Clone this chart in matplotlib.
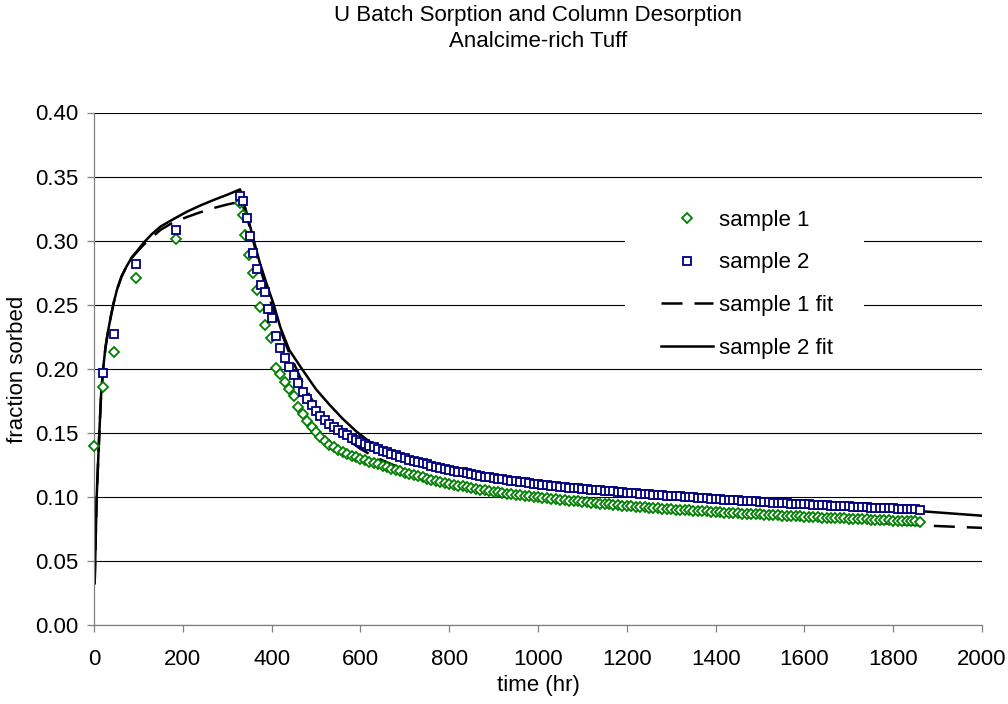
import numpy as np
import matplotlib
matplotlib.use("Agg")
import matplotlib.pyplot as plt
from matplotlib.patches import Rectangle

plt.rcParams['font.family'] = ['Liberation Sans', 'DejaVu Sans']
plt.rcParams['font.size'] = 16

# batch sorption points (hr, fraction sorbed)
s1_batch_t = [0, 21, 44, 95, 185]
s1_batch_y = [0.140, 0.186, 0.213, 0.271, 0.301]
s2_batch_t = [21, 44, 95, 185]
s2_batch_y = [0.197, 0.227, 0.282, 0.308]

# first column samples, before the regular 10 hr sampling
s1_col_t = [329, 335, 340, 348, 359, 366, 374, 385, 398]
s1_col_y = [0.329, 0.320, 0.3045, 0.289, 0.275, 0.2615, 0.2485, 0.234, 0.2238]
s2_col_t = [329, 335, 345, 351, 358, 368, 376, 385, 393, 400]
s2_col_y = [0.335, 0.331, 0.3175, 0.3037, 0.290, 0.2776, 0.265, 0.260, 0.247, 0.240]

# column desorption, 10 hr sampling
t_col = [
    410, 420, 430, 440, 450, 460, 470, 480, 490, 500, 510, 520, 530, 540, 550,
    560, 570, 580, 590, 600, 610, 620, 630, 640, 650, 660, 670, 680, 690, 700,
    710, 720, 730, 740, 750, 760, 770, 780, 790, 800, 810, 820, 830, 840, 850,
    860, 870, 880, 890, 900, 910, 920, 930, 940, 950, 960, 970, 980, 990, 1000,
    1010, 1020, 1030, 1040, 1050, 1060, 1070, 1080, 1090, 1100, 1110, 1120, 1130, 1140, 1150,
    1160, 1170, 1180, 1190, 1200, 1210, 1220, 1230, 1240, 1250, 1260, 1270, 1280, 1290, 1300,
    1310, 1320, 1330, 1340, 1350, 1360, 1370, 1380, 1390, 1400, 1410, 1420, 1430, 1440, 1450,
    1460, 1470, 1480, 1490, 1500, 1510, 1520, 1530, 1540, 1550, 1560, 1570, 1580, 1590, 1600,
    1610, 1620, 1630, 1640, 1650, 1660, 1670, 1680, 1690, 1700, 1710, 1720, 1730, 1740, 1750,
    1760, 1770, 1780, 1790, 1800, 1810, 1820, 1830, 1840, 1850, 1860,
]
s1_col_y2 = [
    0.2005, 0.1960, 0.1900, 0.1843, 0.1790, 0.1705, 0.1648, 0.1592, 0.1545, 0.1505, 0.1468, 0.1435, 0.1408, 0.1386, 0.1367,
    0.1350, 0.1335, 0.1322, 0.1310, 0.1299, 0.1288, 0.1276, 0.1264, 0.1253, 0.1242, 0.1231, 0.1221, 0.1211, 0.1201, 0.1190,
    0.1180, 0.1170, 0.1161, 0.1152, 0.1143, 0.1134, 0.1126, 0.1118, 0.1110, 0.1102, 0.1095, 0.1088, 0.1081, 0.1074, 0.1068,
    0.1062, 0.1056, 0.1050, 0.1045, 0.1040, 0.1035, 0.1030, 0.1025, 0.1020, 0.1016, 0.1012, 0.1008, 0.1004, 0.1000, 0.0996,
    0.0992, 0.0988, 0.0985, 0.0981, 0.0978, 0.0975, 0.0971, 0.0968, 0.0964, 0.0960, 0.0957, 0.0953, 0.0950, 0.0947, 0.0944,
    0.0941, 0.0938, 0.0935, 0.0932, 0.0929, 0.0926, 0.0924, 0.0921, 0.0918, 0.0916, 0.0913, 0.0911, 0.0908, 0.0906, 0.0903,
    0.0901, 0.0899, 0.0897, 0.0894, 0.0892, 0.0890, 0.0888, 0.0886, 0.0884, 0.0882, 0.0880, 0.0878, 0.0876, 0.0874, 0.0872,
    0.0870, 0.0868, 0.0866, 0.0865, 0.0863, 0.0861, 0.0859, 0.0857, 0.0856, 0.0854, 0.0852, 0.0851, 0.0849, 0.0847, 0.0846,
    0.0844, 0.0843, 0.0841, 0.0839, 0.0838, 0.0836, 0.0835, 0.0833, 0.0832, 0.0830, 0.0829, 0.0827, 0.0826, 0.0824, 0.0823,
    0.0821, 0.0820, 0.0818, 0.0817, 0.0815, 0.0814, 0.0812, 0.0811, 0.0809, 0.0808, 0.0806,
]
s2_col_y2 = [
    0.2255, 0.2160, 0.2085, 0.2015, 0.1950, 0.1885, 0.1822, 0.1762, 0.1714, 0.1670, 0.1632, 0.1600, 0.1572, 0.1546, 0.1522,
    0.1500, 0.1480, 0.1461, 0.1444, 0.1428, 0.1413, 0.1399, 0.1386, 0.1373, 0.1360, 0.1348, 0.1336, 0.1324, 0.1312, 0.1301,
    0.1291, 0.1281, 0.1271, 0.1262, 0.1253, 0.1244, 0.1236, 0.1228, 0.1220, 0.1212, 0.1205, 0.1198, 0.1191, 0.1184, 0.1177,
    0.1170, 0.1164, 0.1158, 0.1152, 0.1147, 0.1142, 0.1137, 0.1132, 0.1127, 0.1122, 0.1117, 0.1113, 0.1108, 0.1104, 0.1100,
    0.1096, 0.1092, 0.1088, 0.1084, 0.1080, 0.1077, 0.1073, 0.1070, 0.1066, 0.1063, 0.1060, 0.1057, 0.1054, 0.1051, 0.1048,
    0.1045, 0.1042, 0.1039, 0.1036, 0.1033, 0.1030, 0.1028, 0.1025, 0.1022, 0.1020, 0.1017, 0.1015, 0.1012, 0.1010, 0.1007,
    0.1005, 0.1003, 0.1001, 0.0998, 0.0996, 0.0993, 0.0991, 0.0989, 0.0986, 0.0984, 0.0982, 0.0979, 0.0977, 0.0975, 0.0973,
    0.0971, 0.0969, 0.0966, 0.0964, 0.0962, 0.0960, 0.0958, 0.0956, 0.0954, 0.0952, 0.0950, 0.0948, 0.0946, 0.0945, 0.0943,
    0.0941, 0.0939, 0.0937, 0.0936, 0.0934, 0.0932, 0.0930, 0.0929, 0.0927, 0.0925, 0.0924, 0.0922, 0.0920, 0.0919, 0.0917,
    0.0916, 0.0914, 0.0913, 0.0911, 0.0910, 0.0908, 0.0907, 0.0905, 0.0904, 0.0902, 0.0901,
]

# model fits
fit1_t = [1.5, 3, 6, 12, 16, 21, 26, 32, 38, 44, 52, 62, 72, 85, 95, 111, 130, 150, 180, 210,
          240, 270, 300, 318, 332, 345, 360, 374, 390, 404, 420, 440, 470, 500, 550, 600, 630,
          700, 800, 900, 1000, 1200, 1400, 1600, 1800, 1880, 2000]
fit1_y = [0.0325, 0.055, 0.100, 0.150, 0.180, 0.2016, 0.217, 0.230, 0.241, 0.251, 0.262, 0.272,
          0.279, 0.2865, 0.2905, 0.2965, 0.3025, 0.3085, 0.3145, 0.3185, 0.3222, 0.3255, 0.3282,
          0.3295, 0.3305, 0.318, 0.298, 0.279, 0.260, 0.246, 0.230, 0.212, 0.189, 0.170, 0.150,
          0.1375, 0.1315, 0.1210, 0.1110, 0.1040, 0.0990, 0.0920, 0.0870, 0.0830, 0.0790, 0.0775, 0.0758]
fit2_t = [1.5, 3, 6, 12, 16, 21, 26, 32, 38, 44, 52, 62, 72, 85, 95, 111, 130, 150, 180, 210,
          240, 270, 300, 329, 344, 360, 374, 390, 404, 420, 440, 468, 500, 531, 560, 591, 621,
          660, 700, 800, 900, 1000, 1200, 1400, 1600, 1800, 1875, 2000]
fit2_y = [0.0325, 0.055, 0.100, 0.150, 0.180, 0.2016, 0.217, 0.230, 0.241, 0.251, 0.262, 0.272,
          0.279, 0.287, 0.291, 0.298, 0.305, 0.311, 0.317, 0.3227, 0.3275, 0.3318, 0.3358, 0.340,
          0.3214, 0.300, 0.282, 0.265, 0.251, 0.232, 0.2145, 0.200, 0.184, 0.1717, 0.161, 0.151,
          0.143, 0.136, 0.1300, 0.1210, 0.1145, 0.1095, 0.1025, 0.0975, 0.0935, 0.0900, 0.0885, 0.0853]

s1_t = np.concatenate([s1_batch_t, s1_col_t, t_col])
s1_y = np.concatenate([s1_batch_y, s1_col_y, s1_col_y2])
s2_t = np.concatenate([s2_batch_t, s2_col_t, t_col])
s2_y = np.concatenate([s2_batch_y, s2_col_y, s2_col_y2])

fig = plt.figure(figsize=(10.08, 7.04), dpi=100)
ax = fig.add_axes([94 / 1008, 1 - 625 / 704, 888 / 1008, 512.5 / 704])

ax.plot(fit1_t, fit1_y, color='black', lw=1.8, dashes=(8.4, 4.8), label='sample 1 fit', zorder=2)
ax.plot(fit2_t, fit2_y, color='black', lw=1.8, label='sample 2 fit', zorder=2.1)
ax.plot(s1_t, s1_y, ls='none', marker='D', ms=4.6, mew=1.3, mec='#008000', mfc='white',
        label='sample 1', zorder=3, clip_on=False)
ax.plot(s2_t, s2_y, ls='none', marker='s', ms=6.4, mew=1.3, mec='#000080', mfc='white',
        label='sample 2', zorder=4, clip_on=False)

ax.set_xlim(0, 2000)
ax.set_ylim(0, 0.40)
ax.set_xticks(np.arange(0, 2001, 200))
ax.set_yticks(np.arange(0, 0.401, 0.05))
ax.yaxis.set_major_formatter(matplotlib.ticker.FormatStrFormatter('%.2f'))

ax.set_axisbelow(True)
ax.yaxis.grid(True, color='black', lw=0.8)
for side in ['top', 'right']:
    ax.spines[side].set_visible(False)
for side in ['left', 'bottom']:
    ax.spines[side].set_color('#808080')
    ax.spines[side].set_linewidth(0.9)
ax.tick_params(axis='both', direction='out', length=5, width=0.9, color='#808080', labelsize=16)
ax.tick_params(axis='y', pad=6)
ax.tick_params(axis='x', pad=12)

# white area behind the legend
ax.add_patch(Rectangle((0.598, 0.507), 0.269, 0.350, transform=ax.transAxes,
                       facecolor='white', edgecolor='none', zorder=1))

handles, labels = ax.get_legend_handles_labels()
order = [2, 3, 0, 1]
ax.legend([handles[i] for i in order], [labels[i] for i in order],
          loc='upper left', bbox_to_anchor=(0.626, 0.832), frameon=False,
          borderpad=0, handlelength=2.35, handletextpad=0.25, labelspacing=0.98,
          numpoints=1, fontsize=16)

fig.text(538 / 1008, 1 - 15.5 / 704, 'U Batch Sorption and Column Desorption', ha='center', va='center')
fig.text(538 / 1008, 1 - 41.5 / 704, 'Analcime-rich Tuff', ha='center', va='center')
fig.text(18 / 1008, 1 - 369 / 704, 'fraction sorbed', rotation=90, ha='center', va='center')
fig.text(538 / 1008, 1 - 686 / 704, 'time (hr)', ha='center', va='center')

fig.savefig('out.png', dpi=100)
